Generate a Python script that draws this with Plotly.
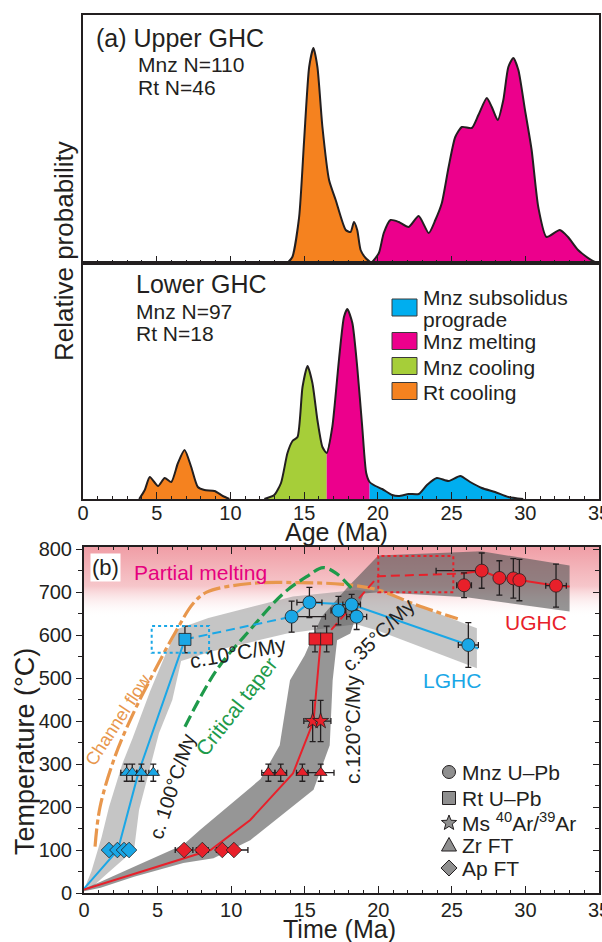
import math
import plotly.graph_objects as go

W, H = 602, 942
FONT = "Liberation Sans, Arial, sans-serif"
INK = "#231f20"
ORANGE = "#f5821f"
MAGENTA = "#ec008c"
GREEN = "#a6ce39"
SKY = "#00aeef"
BLUE = "#1aa7e6"
RED = "#e8202a"
GREY = "#8f8f8f"

# ---------------- Panel (a): probability density curves ----------------
# Upper GHC
up_rt_age = [13.87, 14.2, 14.66, 15.0, 15.34, 15.63, 15.9, 16.24, 16.69, 17.14, 17.82, 18.15, 18.38, 18.6, 18.83, 19.17, 19.57]
up_rt_p = [0, 6, 46, 123, 196, 215, 196, 136, 83, 63, 33, 31, 41, 33, 13, 5, 0]
up_mnz_age = [19.57, 20.07, 20.4, 20.86, 21.42, 22.09, 22.77, 23.45, 23.9, 24.34, 24.8, 25.25, 25.7, 26.37, 26.82, 27.39,
              27.73, 28.13, 28.51, 28.85, 29.19, 29.53, 29.98, 30.43, 30.88, 31.44, 32.34, 32.9, 33.58, 34.48, 34.93]
up_mnz_p = [0, 10, 30, 43, 41, 36, 47, 30, 43, 60, 96, 126, 136, 135, 148, 165,
            156, 143, 163, 196, 205, 193, 153, 113, 56, 26, 33, 26, 13, 3, 0]

# Lower GHC
lo_rt_age = [3.81, 4.19, 4.53, 5.09, 5.54, 5.99, 6.44, 6.89, 7.34, 7.79, 8.24, 8.92, 9.48, 9.93]
lo_rt_p = [0, 9, 22, 13, 21, 17, 36, 49, 32, 12, 9, 8, 3, 0]
lo_cool_age = [12.3, 12.97, 13.43, 13.87, 14.21, 14.55, 14.89, 15.23, 15.56, 15.9, 16.24, 16.53]
lo_cool_p = [0, 4, 16, 46, 58, 62, 112, 133, 116, 79, 52, 46]
lo_melt_age = [16.53, 16.91, 17.36, 17.7, 17.93, 18.27, 18.6, 18.94, 19.21, 19.44]
lo_melt_p = [46, 72, 139, 182, 190, 176, 132, 72, 26, 17]
lo_pro_age = [19.44, 19.84, 20.29, 20.97, 21.42, 22.09, 22.77, 23.33, 24.0, 24.8, 25.59, 26.26, 27.05, 27.95, 28.85, 29.86]
lo_pro_p = [17, 13, 10, 4, 3, 5, 5, 14, 21, 18, 23, 17, 11, 7, 2, 0]

legend_a_colors = [SKY, MAGENTA, GREEN, ORANGE]

# ---------------- Panel (b): T-t paths ----------------
age_ticks = [0, 5, 10, 15, 20, 25, 30, 35]
temp_ticks = [0, 100, 200, 300, 400, 500, 600, 700, 800]
melt_zone = [640, 805]

# Upper GHC data
u_mnz_t = [25.83, 27.03, 28.23, 29.18, 29.59, 32.08]
u_mnz_T = [716, 750, 733, 732, 728, 715]
u_mnz_Terr = [29, 41, 40, 46, 48, 50]
u_mnz_terr_plus = [0.5, 0.3, 0.3, 0.3, 0.3, 0.7]
u_mnz_terr_minus = [0.5, 3.1, 0.3, 0.3, 0.3, 0.7]
u_rt_t = [15.7, 16.49]
u_rt_T = [591, 591]
u_rt_Terr = [30, 30]
u_ms_t = [15.54, 16.08]
u_ms_T = [400, 400]
u_ms_Terr = [48, 48]
u_ms_terr = [0.6, 0.7]
u_zr_t = [12.53, 13.37, 14.84, 16.09]
u_zr_T = [280, 280, 280, 280]
u_zr_Terr = [20, 20, 20, 20]
u_zr_terr = [0.45, 0.4, 0.4, 0.9]
u_ap_t = [6.8, 8.04, 9.4, 10.19]
u_ap_T = [100, 100, 100, 100]
u_ap_terr = [0.6, 0.4, 0.4, 0.95]

# Lower GHC data
l_mnz_t = [14.11, 15.32, 17.29, 18.19, 18.53, 26.12]
l_mnz_T = [643, 676, 657, 671, 643, 577]
l_mnz_Terr = [36, 35, 33, 24, 30, 52]
l_mnz_terr_plus = [2.3, 0.85, 0.5, 0.6, 0.68, 0.68]
l_mnz_terr_minus = [0.3, 0.85, 0.5, 0.6, 0.68, 0.68]
l_rt_t = [6.86]
l_rt_T = [590]
l_rt_Terr = [31]
l_zr_t = [2.9, 3.28, 3.9, 4.71]
l_zr_T = [280, 280, 280, 280]
l_zr_Terr = [20, 20, 20, 20]
l_zr_terr = [0.4, 0.3, 0.3, 0.3]
l_ap_t = [1.70, 2.27, 2.72, 3.06]
l_ap_T = [100, 100, 100, 100]

# Paths
l_path_t = [0, 2.3, 3.7, 6.86]
l_path_T = [10, 100, 280, 590]
l_dash_t = [6.86, 14.11]
l_dash_T = [590, 643]
l_path2_t = [14.11, 15.32, 18.19, 26.12, 26.8]
l_path2_T = [643, 676, 671, 577, 569]
u_path_t = [0, 4.5, 8.6, 11.3, 14.2, 15.6, 16.1]
u_path_T = [8, 57, 100, 170, 278, 400, 591]
u_dash_t = [16.8, 20.0, 25.6]
u_dash_T = [612, 737, 743]
u_path2_t = [25.6, 27.03, 28.23, 29.18, 29.59, 32.08, 33.0]
u_path2_T = [743, 750, 733, 732, 728, 715, 713]

chan_t = [0.75, 1.09, 2.1, 3.35, 4.71, 6.3, 7.43, 8.34, 11.28, 14.7, 17.6, 20.0, 22.6, 25.4]
chan_T = [108, 200, 317, 418, 511, 612, 674, 700, 720, 722, 718, 705, 670, 638]
taper_t = [6.86, 9.02, 11.28, 13.55, 15.13, 16.26, 17.17, 18.2]
taper_T = [387, 519, 612, 697, 736, 757, 743, 708]

# Envelopes
l_band_t = [0, 0.5, 1.2, 1.7, 2.6, 3.3, 4.5, 5.6, 6.4, 8.45, 14.2, 18.5, 20.3, 26.7,
            26.7, 20.0, 18.5, 13.8, 8.6, 6.6, 6.0, 5.1, 3.74, 3.4, 1.6, 0.5, 0]
l_band_T = [8, 50, 130, 200, 300, 360, 470, 560, 615, 640, 690, 705, 700, 616,
            523, 610, 625, 604, 561, 540, 449, 372, 193, 100, 46, 12, 8]
u_band_t = [0, 1.13, 3.4, 6.75, 7.9, 12.0, 13.3, 14.0, 15.0, 16.15, 17.85, 20.0, 27.0, 33.0,
            33.0, 26.0, 20.0, 19.0, 18.1, 17.2, 16.9, 16.7, 15.6, 11.3, 8.8, 6.75, 3.4, 1.13, 0]
u_band_T = [10, 26, 61, 112, 147, 265, 344, 495, 553, 643, 709, 785, 795, 762,
            655, 688, 700, 697, 604, 588, 495, 344, 240, 123, 81, 70, 38, 12, 4]

rect_lghc = [4.6, 8.5, 559, 621]
rect_ughc = [20.0, 25.1, 700, 784]

sym_names = ["Mnz U\u2013Pb", "Rt U\u2013Pb", "Ms <sup>40</sup>Ar/<sup>39</sup>Ar", "Zr FT", "Ap FT"]
sym_shapes = ["circle", "square", "star", "triangle", "diamond"]


def P(x, y):
    return x / W, 1 - y / H


fig = go.Figure()

SPL = dict(shape="spline", smoothing=0.6)

# ---- panel a upper
fig.add_trace(go.Scatter(x=up_rt_age, y=up_rt_p, fill="tozeroy", fillcolor=ORANGE, mode="lines",
                         line=dict(color=INK, width=2, **SPL), xaxis="x", yaxis="y",
                         showlegend=False, hoverinfo="skip"))
fig.add_trace(go.Scatter(x=up_mnz_age, y=up_mnz_p, fill="tozeroy", fillcolor=MAGENTA, mode="lines",
                         line=dict(color=INK, width=2, **SPL), xaxis="x", yaxis="y",
                         showlegend=False, hoverinfo="skip"))

# ---- panel a lower
fig.add_trace(go.Scatter(x=lo_rt_age, y=lo_rt_p, fill="tozeroy", fillcolor=ORANGE, mode="lines",
                         line=dict(color=INK, width=2, **SPL), xaxis="x2", yaxis="y2",
                         showlegend=False, hoverinfo="skip"))
for a, p, c in [(lo_cool_age, lo_cool_p, GREEN), (lo_melt_age, lo_melt_p, MAGENTA), (lo_pro_age, lo_pro_p, SKY)]:
    fig.add_trace(go.Scatter(x=a, y=p, fill="tozeroy", fillcolor=c, mode="lines",
                             line=dict(color=c, width=0, **SPL), xaxis="x2", yaxis="y2",
                             showlegend=False, hoverinfo="skip"))
all_age = lo_cool_age + lo_melt_age[1:] + lo_pro_age[1:]
all_p = lo_cool_p + lo_melt_p[1:] + lo_pro_p[1:]
fig.add_trace(go.Scatter(x=all_age, y=all_p, mode="lines", line=dict(color=INK, width=2, **SPL),
                         xaxis="x2", yaxis="y2", showlegend=False, hoverinfo="skip"))

# ---- panel b
XB, YB = "x3", "y3"
fig.add_trace(go.Scatter(x=[0, 35, 35, 0, 0],
                         y=[melt_zone[0], melt_zone[0], melt_zone[1], melt_zone[1], melt_zone[0]],
                         fill="toself", mode="none",
                         fillgradient=dict(type="vertical",
                                           colorscale=[[0, "rgba(255,255,255,0)"], [0.45, "rgba(246,198,202,1)"],
                                                       [1, "rgba(240,158,166,1)"]],
                                           start=melt_zone[0], stop=melt_zone[1]),
                         xaxis=XB, yaxis=YB, showlegend=False, hoverinfo="skip"))
fig.add_trace(go.Scatter(x=l_band_t, y=l_band_T, fill="toself", fillcolor="rgba(140,140,140,0.5)", mode="none",
                         xaxis=XB, yaxis=YB, showlegend=False, hoverinfo="skip"))
fig.add_trace(go.Scatter(x=u_band_t, y=u_band_T, fill="toself", fillcolor="rgba(85,85,85,0.62)", mode="none",
                         xaxis=XB, yaxis=YB, showlegend=False, hoverinfo="skip"))
fig.add_trace(go.Scatter(x=chan_t, y=chan_T, mode="lines",
                         line=dict(color="#e8974d", width=3.2, dash="18px,4px,5px,4px", shape="spline"),
                         xaxis=XB, yaxis=YB, showlegend=False, hoverinfo="skip"))
fig.add_trace(go.Scatter(x=taper_t, y=taper_T, mode="lines",
                         line=dict(color="#1e9a4a", width=3.2, dash="12px,5px", shape="spline"),
                         xaxis=XB, yaxis=YB, showlegend=False, hoverinfo="skip"))

for t, T, col, dash in [(l_path_t, l_path_T, BLUE, "solid"), (l_dash_t, l_dash_T, BLUE, "9px,5px"),
                        (l_path2_t, l_path2_T, BLUE, "solid"), (u_path_t, u_path_T, RED, "solid"),
                        (u_dash_t, u_dash_T, RED, "9px,5px"), (u_path2_t, u_path2_T, RED, "solid")]:
    fig.add_trace(go.Scatter(x=t, y=T, mode="lines", line=dict(color=col, width=2, dash=dash),
                             xaxis=XB, yaxis=YB, showlegend=False, hoverinfo="skip"))


def eb(arr, minus=None):
    d = dict(type="data", array=arr, color=INK, thickness=1.3, width=3, visible=True)
    if minus is not None:
        d["symmetric"] = False
        d["arrayminus"] = minus
    return d


def pts(t, T, sym, col, size, Terr=None, terr=None, terr_minus=None):
    kw = {}
    if Terr is not None:
        kw["error_y"] = eb(Terr)
    if terr is not None:
        kw["error_x"] = eb(terr, terr_minus)
    fig.add_trace(go.Scatter(x=t, y=T, mode="markers",
                             marker=dict(symbol=sym, size=size, color=col, line=dict(color=INK, width=0.8)),
                             xaxis=XB, yaxis=YB, showlegend=False, hoverinfo="skip", **kw))


pts(u_ap_t, u_ap_T, "diamond", RED, 12, terr=u_ap_terr)
pts(u_zr_t, u_zr_T, "triangle-up", RED, 11, Terr=u_zr_Terr, terr=u_zr_terr)
pts(u_ms_t, u_ms_T, "star", RED, 12, Terr=u_ms_Terr, terr=u_ms_terr)
pts(u_rt_t, u_rt_T, "square", RED, 12, Terr=u_rt_Terr)
pts(u_mnz_t, u_mnz_T, "circle", RED, 13, Terr=u_mnz_Terr, terr=u_mnz_terr_plus, terr_minus=u_mnz_terr_minus)
pts(l_ap_t, l_ap_T, "diamond", BLUE, 12)
pts(l_zr_t, l_zr_T, "triangle-up", BLUE, 11, Terr=l_zr_Terr, terr=l_zr_terr)
pts(l_rt_t, l_rt_T, "square", BLUE, 12, Terr=l_rt_Terr)
pts(l_mnz_t, l_mnz_T, "circle", BLUE, 13, Terr=l_mnz_Terr, terr=l_mnz_terr_plus, terr_minus=l_mnz_terr_minus)

fig.add_trace(go.Scatter(x=[None], y=[None], mode="markers", xaxis=XB, yaxis="y4", showlegend=False))

# ---- shapes
shapes = []
for r, col in [(rect_lghc, BLUE), (rect_ughc, RED)]:
    shapes.append(dict(type="rect", xref="x3", yref="y3", x0=r[0], x1=r[1], y0=r[2], y1=r[3],
                       line=dict(color=col, width=2, dash="dot"), fillcolor="rgba(0,0,0,0)"))

# panel (a) colour key
box_rows = [307.5, 341, 366, 391]
for yc, col in zip(box_rows, legend_a_colors):
    x0, y0 = P(392, yc - 8.5)
    x1, y1 = P(417, yc + 8.5)
    shapes.append(dict(type="rect", xref="paper", yref="paper", x0=x0, x1=x1, y0=y1, y1=y0,
                       fillcolor=col, line=dict(color="#3a3a3a", width=1)))


# panel (b) symbol key (glyphs drawn as paper shapes)
def poly_path(pts_px):
    s = ""
    for i, (x, y) in enumerate(pts_px):
        a, b = P(x, y)
        s += ("M" if i == 0 else "L") + f"{a:.5f},{b:.5f}"
    return s + "Z"


def glyph(kind, cx, cy):
    line = dict(color=INK, width=1)
    if kind == "circle":
        x0, y0 = P(cx - 6.5, cy - 6.5)
        x1, y1 = P(cx + 6.5, cy + 6.5)
        return dict(type="circle", xref="paper", yref="paper", x0=x0, x1=x1, y0=y1, y1=y0,
                    fillcolor=GREY, line=line)
    if kind == "square":
        x0, y0 = P(cx - 6.5, cy - 6.5)
        x1, y1 = P(cx + 6.5, cy + 6.5)
        return dict(type="rect", xref="paper", yref="paper", x0=x0, x1=x1, y0=y1, y1=y0,
                    fillcolor=GREY, line=line)
    if kind == "star":
        pp = []
        for k in range(10):
            r = 8.0 if k % 2 == 0 else 3.4
            ang = -math.pi / 2 + k * math.pi / 5
            pp.append((cx + r * math.cos(ang), cy + 1 + r * math.sin(ang)))
        return dict(type="path", xref="paper", yref="paper", path=poly_path(pp), fillcolor=GREY, line=line)
    if kind == "triangle":
        pp = [(cx, cy - 7.5), (cx + 7.5, cy + 6), (cx - 7.5, cy + 6)]
        return dict(type="path", xref="paper", yref="paper", path=poly_path(pp), fillcolor=GREY, line=line)
    pp = [(cx, cy - 8), (cx + 8, cy), (cx, cy + 8), (cx - 8, cy)]
    return dict(type="path", xref="paper", yref="paper", path=poly_path(pp), fillcolor=GREY, line=line)


key_rows = [772, 798, 822, 845, 868]
for kind, yc in zip(sym_shapes, key_rows):
    shapes.append(glyph(kind, 449, yc))

# ---- annotations
anns = []


def ann(text, x, y, size, color=INK, angle=0, xanchor="center", bg=None):
    ax, ay = P(x, y)
    d = dict(text=text, x=ax, y=ay, xref="paper", yref="paper", showarrow=False,
             font=dict(family=FONT, size=size, color=color), textangle=angle,
             xanchor=xanchor, yanchor="middle")
    if bg:
        d["bgcolor"] = bg
        d["borderpad"] = 1
    anns.append(d)


ann("(a) Upper GHC", 94, 38, 25, xanchor="left")
ann("Mnz N=110", 136, 65, 21, xanchor="left")
ann("Rt N=46", 136, 88, 21, xanchor="left")
ann("Lower GHC", 134, 284, 25, xanchor="left")
ann("Mnz N=97", 134, 312, 21, xanchor="left")
ann("Rt N=18", 134, 334, 21, xanchor="left")
ann("Mnz subsolidus", 421, 297, 21, xanchor="left")
ann("prograde", 421, 319, 21, xanchor="left")
ann("Mnz melting", 421, 342, 21, xanchor="left")
ann("Mnz cooling", 421, 367, 21, xanchor="left")
ann("Rt cooling", 421, 392, 21, xanchor="left")
ann("Relative probability", 64, 251, 26, angle=-90)
ann("Age (Ma)", 336, 532, 25)

for name, yc in zip(sym_names, key_rows):
    ann(name, 460, yc, 21, xanchor="left")

ann("(b)", 106, 567, 22, bg="white")
ann("Partial melting", 200, 572, 21, color="#e6007e")
ann("Channel flow", 118, 720, 18, color="#e8974d", angle=-57)
ann("c.10°C/My", 238, 652, 21, angle=-10)
ann("Critical taper", 236, 706, 21, color="#1e9a4a", angle=-52)
ann("c. 100°C/My", 172, 787, 20, angle=-72)
ann("c.120°C/My", 352, 730, 21, angle=-90)
ann("c.35°C/My", 378, 635, 20, angle=-45)
ann("UGHC", 536, 622, 21, color=RED)
ann("LGHC", 452, 680, 21, color=BLUE)
ann("Temperature (°C)", 25, 752, 27, angle=-90)
ann("Time (Ma)", 339, 929, 25)

xd = [83 / W, 599 / W]
ax_common = dict(showgrid=False, zeroline=False, showline=True, linecolor=INK, linewidth=2)
minor_x = dict(dtick=1, ticklen=3, tickwidth=1, tickcolor=INK, ticks="inside")
tf = dict(size=20, family=FONT, color=INK)

fig.update_layout(
    width=W, height=H, margin=dict(l=0, r=0, t=0, b=0, autoexpand=False),
    paper_bgcolor="white", plot_bgcolor="rgba(0,0,0,0)",
    font=dict(family=FONT, color=INK), showlegend=False,
    xaxis=dict(domain=xd, anchor="y", range=[0, 35], ticks="inside", tickvals=age_ticks, ticklen=7, tickwidth=1.2,
               tickcolor=INK, minor=minor_x, showticklabels=False, mirror=True, **ax_common),
    yaxis=dict(domain=[1 - 263 / H, 1 - 15 / H], anchor="x", range=[0, 248], showticklabels=False, ticks="",
               mirror=True, **ax_common),
    xaxis2=dict(domain=xd, anchor="y2", range=[0, 35], ticks="inside", tickvals=age_ticks, ticklen=7, tickwidth=1.2,
                tickcolor=INK, minor=minor_x, tickfont=tf, mirror=True, ticklabeloverflow="allow",
                ticklabelstandoff=-5, **ax_common),
    yaxis2=dict(domain=[1 - 499 / H, 1 - 263 / H], anchor="x2", range=[0, 236], showticklabels=False, ticks="",
                mirror=True, **ax_common),
    xaxis3=dict(domain=[84 / W, 599 / W], anchor="y3", range=[0, 35], ticks="inside", tickvals=age_ticks, ticklen=7,
                tickwidth=1.2, tickcolor=INK, minor=minor_x, tickfont=tf, mirror="ticks",
                ticklabeloverflow="allow", ticklabelstandoff=-2, **ax_common),
    yaxis3=dict(domain=[1 - 893 / H, 1 - 547 / H], anchor="x3", range=[0, 805], ticks="outside",
                tickvals=temp_ticks, ticklen=6, tickwidth=1.2, tickcolor=INK,
                minor=dict(dtick=50, ticklen=4, tickwidth=1, tickcolor=INK, ticks="outside"),
                tickfont=tf, mirror=True, ticklabeloverflow="allow", **ax_common),
    yaxis4=dict(domain=[1 - 893 / H, 1 - 547 / H], anchor="x3", overlaying="y3", side="right", range=[0, 805],
                ticks="inside", tickvals=temp_ticks, ticklen=6, tickwidth=1.2, tickcolor=INK,
                minor=dict(dtick=50, ticklen=4, tickwidth=1, tickcolor=INK, ticks="inside"),
                showticklabels=False, showgrid=False, zeroline=False, showline=False),
    shapes=shapes, annotations=anns,
)

fig.write_html("out.html")
